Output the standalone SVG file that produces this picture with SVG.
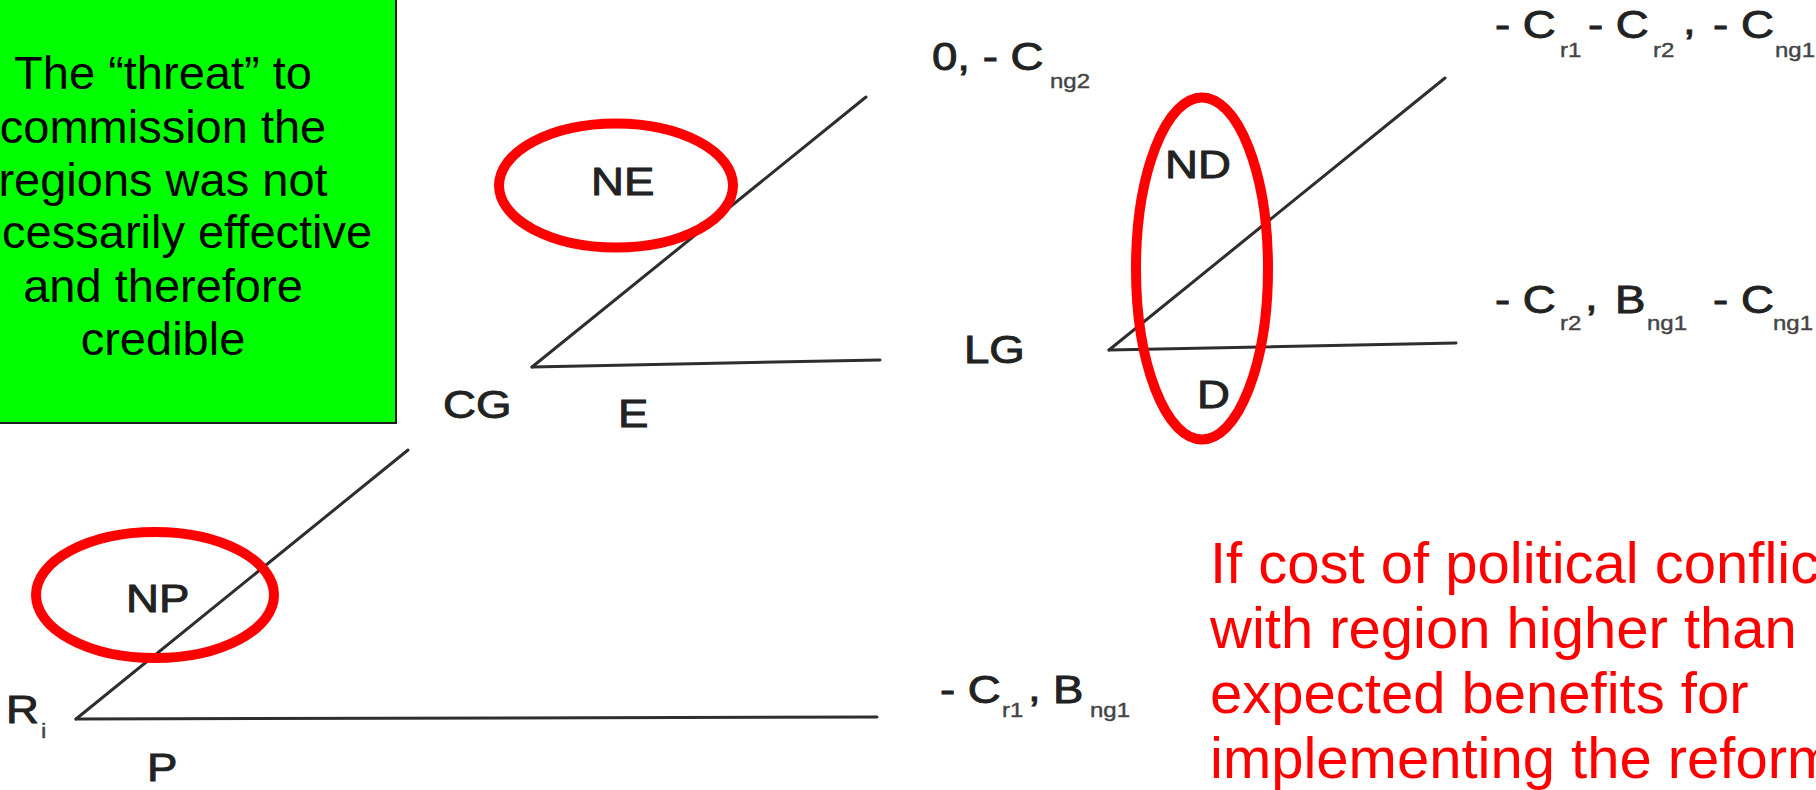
<svg xmlns="http://www.w3.org/2000/svg" width="1816" height="790" viewBox="0 0 1816 790">
<style>
.box{fill:#00ff00;stroke:#1e1e1e;stroke-width:2}
.note{font-family:"Liberation Sans",Arial,sans-serif;font-size:47px;fill:#000;text-anchor:middle}
.red{font-family:"Liberation Sans",Arial,sans-serif;font-size:58px;fill:#ff0000}
.lbl{font-family:"Liberation Sans",Arial,sans-serif;font-size:38px;fill:#222;stroke:#222;stroke-width:0.9}
.sub{font-size:20px;fill:#444;stroke:#444;stroke-width:0.4}
.edge{stroke:#2e2e2e;stroke-width:3;fill:none;stroke-linecap:round}
.ring{stroke:#ff0000;stroke-width:10;fill:none}
</style>
<rect width="1816" height="790" fill="#fff"/>

<g id="note-box">
<rect class="box" x="-5" y="-5" width="401" height="428"/>
<text class="note" x="163" y="89">The “threat” to</text>
<text class="note" x="163" y="143">commission the</text>
<text class="note" x="163" y="196">regions was not</text>
<text class="note" x="161" y="248">necessarily effective</text>
<text class="note" x="163" y="302">and therefore</text>
<text class="note" x="163" y="355">credible</text>
</g>

<g id="connectors">
<line class="edge" x1="76" y1="719" x2="408" y2="450"/>
<line class="edge" x1="76" y1="719" x2="877" y2="717"/>
<line class="edge" x1="532" y1="367" x2="866" y2="97"/>
<line class="edge" x1="532" y1="367" x2="880" y2="360"/>
<line class="edge" x1="1109" y1="350" x2="1445" y2="78"/>
<line class="edge" x1="1109" y1="350" x2="1456" y2="343"/>
</g>

<g id="node-R" class="lbl">
<text transform="translate(6 723) scale(1.2 1)">R</text>
<text class="sub" font-size="18" transform="translate(41 738) scale(1.2 1)">i</text>
</g>
<g id="branch-NP" class="lbl"><text transform="translate(126 612) scale(1.2 1)">NP</text></g>
<g id="branch-P" class="lbl"><text transform="translate(147 781) scale(1.2 1)">P</text></g>

<g id="node-CG" class="lbl"><text transform="translate(443 418) scale(1.2 1)">CG</text></g>
<g id="branch-NE" class="lbl"><text transform="translate(591 195) scale(1.2 1)">NE</text></g>
<g id="branch-E" class="lbl"><text transform="translate(618 427) scale(1.2 1)">E</text></g>

<g id="node-LG" class="lbl"><text transform="translate(964 363) scale(1.2 1)">LG</text></g>
<g id="branch-ND" class="lbl"><text transform="translate(1165 178) scale(1.2 1)">ND</text></g>
<g id="branch-D" class="lbl"><text transform="translate(1197 408) scale(1.2 1)">D</text></g>

<g id="payoff-NE" class="lbl" transform="translate(932 70) scale(1.2 1)">
<text><tspan x="0" y="0">0, - C</tspan><tspan class="sub" x="98.3" y="18">ng2</tspan></text>
</g>

<g id="payoff-ND" class="lbl" transform="translate(1495 38) scale(1.2 1)">
<text><tspan x="0" y="0">- C</tspan><tspan class="sub" x="54.2" y="19">r1</tspan><tspan x="77.5" y="0">- C</tspan><tspan class="sub" x="131.7" y="19">r2</tspan><tspan x="156.7" y="-4">,</tspan><tspan x="181.7" y="0">- C</tspan><tspan class="sub" x="233.3" y="19">ng1</tspan></text>
</g>

<g id="payoff-D" class="lbl" transform="translate(1495 313) scale(1.2 1)">
<text><tspan x="0" y="0">- C</tspan><tspan class="sub" x="54.2" y="17">r2</tspan><tspan x="75" y="-3">,</tspan><tspan x="100" y="0">B</tspan><tspan class="sub" x="126.7" y="17">ng1</tspan><tspan x="181.7" y="0">- C</tspan><tspan class="sub" x="231.7" y="17">ng1</tspan></text>
</g>

<g id="payoff-P" class="lbl" transform="translate(940 703) scale(1.2 1)">
<text><tspan x="0" y="0">- C</tspan><tspan class="sub" x="51.7" y="14">r1</tspan><tspan x="73.3" y="-2">,</tspan><tspan x="94.2" y="0">B</tspan><tspan class="sub" x="125" y="14">ng1</tspan></text>
</g>

<g id="highlights">
<ellipse class="ring" cx="616" cy="185.5" rx="117" ry="62"/>
<ellipse class="ring" cx="1202" cy="268.5" rx="66" ry="171"/>
<ellipse class="ring" cx="155" cy="595" rx="119" ry="63"/>
</g>

<g id="red-note">
<text class="red" x="1210" y="583">If cost of political conflict</text>
<text class="red" x="1210" y="648">with region higher than</text>
<text class="red" x="1210" y="713">expected benefits for</text>
<text class="red" x="1210" y="778">implementing the reform</text>
</g>
</svg>
